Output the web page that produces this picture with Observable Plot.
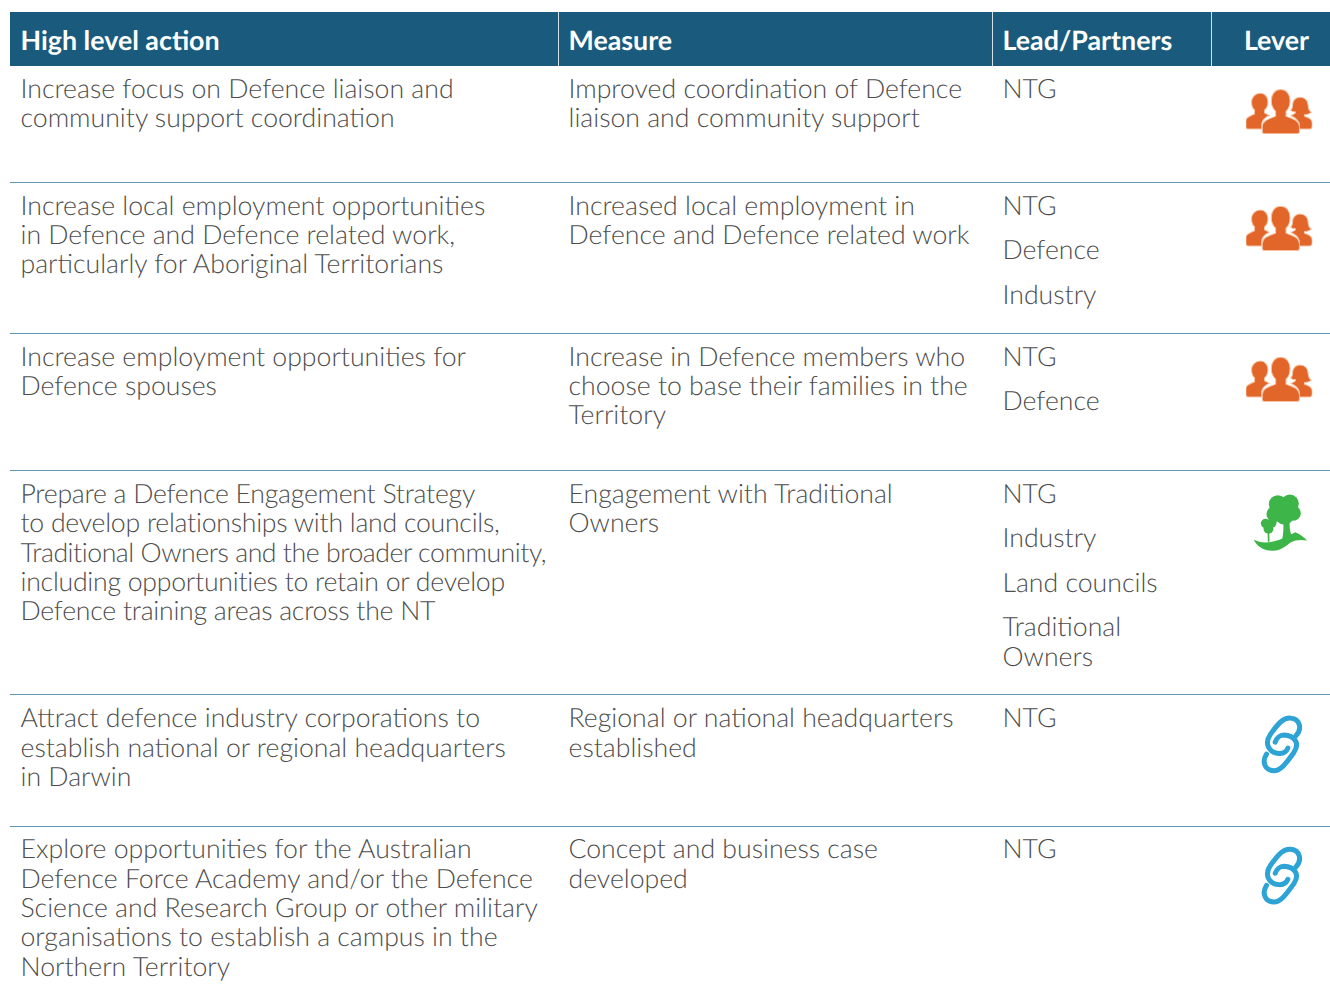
<!DOCTYPE html>
<html><head><meta charset="utf-8">
<script src="https://cdn.jsdelivr.net/npm/d3@7"></script>
<script src="https://cdn.jsdelivr.net/npm/@observablehq/plot@0.6"></script>
<style>html,body{margin:0;padding:0;background:#fff}svg{display:block;text-rendering:geometricPrecision}
.tight text{letter-spacing:-0.25px}
.tighter text{letter-spacing:-0.45px}</style>
</head><body><div id="chart"></div>
<script>
const headers = ["High level action", "Measure", "Lead/Partners", "Lever"];
const actions = [
  ["Increase focus on Defence liaison and", "community support coordination"],
  ["Increase local employment opportunities", "in Defence and Defence related work,", "particularly for Aboriginal Territorians"],
  ["Increase employment opportunities for", "Defence spouses"],
  ["Prepare a Defence Engagement Strategy", "to develop relationships with land councils,", "Traditional Owners and the broader community,", "including opportunities to retain or develop", "Defence training areas across the NT"],
  ["Attract defence industry corporations to", "establish national or regional headquarters", "in Darwin"],
  ["Explore opportunities for the Australian", "Defence Force Academy and/or the Defence", "Science and Research Group or other military", "organisations to establish a campus in the", "Northern Territory"]
];
const measures = [
  ["Improved coordination of Defence", "liaison and community support"],
  ["Increased local employment in", "Defence and Defence related work"],
  ["Increase in Defence members who", "choose to base their families in the", "Territory"],
  ["Engagement with Traditional", "Owners"],
  ["Regional or national headquarters", "established"],
  ["Concept and business case", "developed"]
];
const partners = [
  [["NTG"]],
  [["NTG"], ["Defence"], ["Industry"]],
  [["NTG"], ["Defence"]],
  [["NTG"], ["Industry"], ["Land councils"], ["Traditional", "Owners"]],
  [["NTG"]],
  [["NTG"]]
];
const levers = ["people", "people", "people", "tree", "link", "link"];

// layout
const W = 1330, H = 996;
const tableLeft = 10, headTop = 12, headBottom = 66;
const colEdges = [10, 558, 992, 1211, 1330];
const textX = [20, 568, 1002];
const rowTops = [66, 182, 333, 470, 694, 826];
const firstOffset = [23.2, 24, 24, 24, 24, 23.2];
const linePhase = [-0.5, -0.5, -0.5, 0, 0.3, 0.3];
const tightRow = 3, tighterLine = 2;
const lineStep = 29.35, paraStep = 44.3, wrapStep = 29.8;
const iconOffset = {people: 21.8, tree: 28, link: 25.6};
const iconX = {people: 1278.5, tree: 1280, link: 1281.7};
const iconW = {people: 67, tree: 60, link: 46.7};
const iconH = {people: 45.2, tree: 63.3, link: 63.3};
const font = "Lato";
const textColor = "#4d4d4d";
const bodySize = 26.65;

const wrap = (box, std, body) => "data:image/svg+xml;utf8," + encodeURIComponent(
  `<svg xmlns="http://www.w3.org/2000/svg" viewBox="${box}"><defs><filter id="b" x="-10%" y="-10%" width="120%" height="120%"><feGaussianBlur stdDeviation="${std}"/></filter></defs><g filter="url(#b)">${body}</g></svg>`);
const icons = {
  people: wrap("0 0 200 135", 1.6, `<g fill="#e2662a" stroke="#f6c3a4" stroke-width="3">
    <path d="M45 13c13 0 22 12 22 26 0 11-4 19-10 24v9c5 3 10 5 14 7-12 6-21 13-23 26v15H9c-6 0-8-3-8-7V96c0-9 8-13 26-21v-12c-6-5-9-13-9-24 0-14 11-26 27-26z"/>
    <path d="M163 25c15 0 23 11 24 24 0 9 3 17 10 21-5 4-13 7-21 7v5c13 4 23 9 23 19v12c0 5-3 7-8 7h-30v-14c-2-13-12-20-25-26 5-3 10-5 13-8v-3c-6 0-10-2-14-5 5-5 6-12 6-18 0-12 9-21 22-21z"/>
    <path d="M105 2c17 0 28 14 28 33 0 14-4 25-12 32v15c21 8 40 13 40 31v14c0 5-3 7-8 7H60c-6 0-10-2-10-7v-14c0-18 19-23 40-31V67c-8-7-13-18-13-32 0-19 11-33 28-33z"/></g>`),
  tree: wrap("60 30 180 190", 1.6, `<g fill="#3db54a">
    <circle cx="142" cy="70" r="27"/><circle cx="178" cy="68" r="27"/><circle cx="188" cy="97" r="23"/><circle cx="132" cy="100" r="24"/><circle cx="162" cy="104" r="28"/>
    <path d="M158 115h20c-2 20 0 38 6 50l-30 16c5-20 6-44 4-66z"/>
    <circle cx="105" cy="128" r="14"/><circle cx="124" cy="126" r="14"/><circle cx="114" cy="144" r="15"/>
    <path d="M111 145h5l1 38h-5z"/>
    <path d="M70 177c16 8 36 10 58 5 24-5 42-16 66-28 14 4 26 15 36 25-18-3-36-2-50 6-16 12-28 24-52 25-28 1-50-14-58-33z"/></g>`),
  link: wrap("55 35 140 190", 2, `<g fill="none" stroke="#2ea3d6" stroke-width="15" stroke-linecap="round">
    <path d="M166 105C185 85 180 55 150 52 130 50 115 65 90 100 70 128 85 156 115 158 128 159 138 152 142 142"/>
    <path d="M78 160C62 185 75 210 100 210 120 210 135 190 160 155 180 125 160 105 130 103 118 103 108 112 104 124"/></g>`)
};

const bodyLines = [], tightLines = [], tighterLines = [];
actions.forEach((ls, r) => ls.forEach((t, i) => {
  const group = r !== tightRow ? bodyLines : i === tighterLine ? tighterLines : tightLines;
  group.push({t, x: textX[0], y: rowTops[r] + firstOffset[r] + Math.round(i * lineStep + linePhase[r])});
}));
measures.forEach((ls, r) => ls.forEach((t, i) => bodyLines.push({t, x: textX[1], y: rowTops[r] + firstOffset[r] + Math.round(i * lineStep + linePhase[r])})));
partners.forEach((ps, r) => {
  let y = rowTops[r] + firstOffset[r];
  ps.forEach((p) => {
    p.forEach((t, i) => bodyLines.push({t, x: textX[2], y: y + i * wrapStep}));
    y += paraStep + (p.length - 1) * wrapStep;
  });
});
const headerRows = headers.map((t, i) => ({t, i}));
const leverRows = levers.map((k, r) => ({k, r}));
const bodyText = {
  text: "t", x: "x", y: "y", textAnchor: "start", lineAnchor: "middle",
  fontFamily: font, fontWeight: 300, fontSize: bodySize, fill: textColor
};

const chart = Plot.plot({
  width: W, height: H, margin: 0,
  style: {background: "#fff", fontFamily: font},
  x: {type: "identity", axis: null},
  y: {type: "identity", axis: null},
  marks: [
    Plot.rect([0], {x1: tableLeft, x2: W, y1: headTop, y2: headBottom, fill: "#195a7d"}),
    Plot.ruleX(colEdges.slice(1, 4), {y1: headTop, y2: headBottom, stroke: "#d5dfe6", strokeWidth: 1}),
    Plot.ruleY(rowTops.slice(1), {x1: tableLeft, x2: W, stroke: "#5f97ae", strokeWidth: 1}),
    Plot.text(headerRows.slice(0, 3), {
      text: "t", x: d => textX[d.i], y: 41, textAnchor: "start", lineAnchor: "middle",
      fontFamily: font, fontWeight: 700, fontSize: 26.8, fill: "#fff"
    }),
    Plot.text(headerRows.slice(3), {
      text: "t", x: 1276, y: 41, textAnchor: "middle", lineAnchor: "middle",
      fontFamily: font, fontWeight: 700, fontSize: 26.8, fill: "#fff"
    }),
    Plot.text(bodyLines, bodyText),
    Plot.text(tightLines, {...bodyText, className: "tight"}),
    Plot.text(tighterLines, {...bodyText, className: "tighter"}),
    Plot.image(leverRows, {
      src: d => icons[d.k],
      x: d => iconX[d.k],
      y: d => rowTops[d.r] + firstOffset[d.r] + iconOffset[d.k],
      width: d => iconW[d.k], height: d => iconH[d.k]
    })
  ]
});
document.getElementById("chart").append(chart);
</script></body></html>
